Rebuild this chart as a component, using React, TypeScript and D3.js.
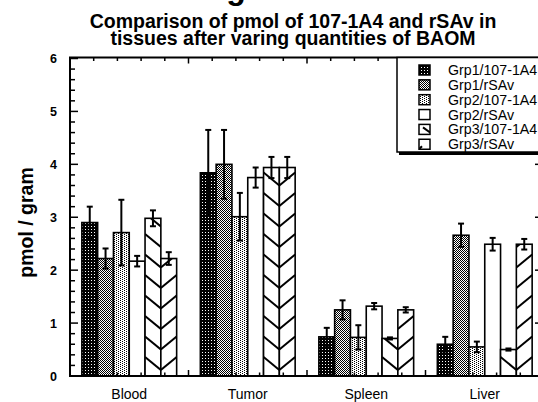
import React from "react";
import * as d3 from "d3";

const categories = ["Blood", "Tumor", "Spleen", "Liver"];
const seriesNames = ["Grp1/107-1A4", "Grp1/rSAv", "Grp2/107-1A4", "Grp2/rSAv", "Grp3/107-1A4", "Grp3/rSAv"];

const grp1_107 = [2.9, 3.84, 0.74, 0.6];
const grp1_107Err = [0.3, 0.81, 0.17, 0.14];
const grp1_rsav = [2.22, 4.0, 1.25, 2.66];
const grp1_rsavErr = [0.19, 0.65, 0.18, 0.22];
const grp2_107 = [2.71, 3.01, 0.73, 0.55];
const grp2_107Err = [0.62, 0.45, 0.23, 0.1];
const grp2_rsav = [2.17, 3.75, 1.32, 2.49];
const grp2_rsavErr = [0.1, 0.19, 0.06, 0.12];
const grp3_107 = [2.98, 3.94, 0.71, 0.5];
const grp3_107Err = [0.15, 0.2, 0.02, 0.02];
const grp3_rsav = [2.22, 3.94, 1.25, 2.49];
const grp3_rsavErr = [0.12, 0.2, 0.05, 0.1];

const seriesValues = [grp1_107, grp1_rsav, grp2_107, grp2_rsav, grp3_107, grp3_rsav];
const seriesErrors = [grp1_107Err, grp1_rsavErr, grp2_107Err, grp2_rsavErr, grp3_107Err, grp3_rsavErr];

const yTicks = [0, 1, 2, 3, 4, 5, 6];
const titleLines = ["Comparison of pmol of 107-1A4 and rSAv in", "tissues after varing quantities of BAOM"];
const yLabel = "pmol / gram";

const W = 538;
const H = 402;
const FONT = "'Liberation Sans', Arial, Helvetica, sans-serif";

export default function App() {
  const left = 70;
  const right = 543;
  const bottom = 376;
  const topY = 57.5;

  const x0 = d3.scaleBand<string>().domain(categories).range([70, 544]).paddingInner(0.2).paddingOuter(0.1);
  const x1 = d3.scaleBand<string>().domain(seriesNames).range([0, x0.bandwidth()]);
  const y = d3.scaleLinear().domain([0, 6]).range([bottom, 58.5]);

  const fills = ["url(#p0)", "url(#p1)", "url(#p2)", "#fff", "#fff", "#fff"];

  const minorY = d3.range(0, 6.001, 0.2);
  const step = x0.step();
  const topTicks: { x: number; major: boolean }[] = [];
  for (let i = 0; i <= 20; i++) {
    const xv = 70 + (i * step) / 5;
    if (xv > left + 1 && xv < right - 1) topTicks.push({ x: xv, major: i % 5 === 0 });
  }

  const bars: any[] = [];
  categories.forEach((c, ci) => {
    seriesNames.forEach((s, si) => {
      const bx = (x0(c) as number) + (x1(s) as number);
      const bw = x1.bandwidth();
      const v = seriesValues[si][ci];
      const e = seriesErrors[si][ci];
      bars.push({ id: `b${ci}_${si}`, ci, si, bx, bw, v, e });
    });
  });

  const hatchLines = (b: any) => {
    const lines: any[] = [];
    const yTop = y(b.v);
    const rise = 13;
    for (let k = 0; k < 40; k++) {
      const yk = bottom - 6 - k * 20.5;
      if (yk < yTop - 30) break;
      if (b.si === 4) {
        lines.push({ x1: b.bx, y1: yk - rise, x2: b.bx + b.bw, y2: yk });
      } else {
        lines.push({ x1: b.bx, y1: yk, x2: b.bx + b.bw, y2: yk - rise });
      }
    }
    return lines;
  };

  const legendRowY = (i: number) => 70 + i * 14.85;

  return (
    <svg width={W} height={H} viewBox={`0 0 ${W} ${H}`} style={{ display: "block", position: "absolute", left: 0, top: 0, background: "#fff" }}>
      <defs>
        <pattern id="p0" patternUnits="userSpaceOnUse" width={3} height={3}>
          <rect width={3} height={3} fill="#000" shapeRendering="crispEdges" />
          <rect x={1} y={1} width={1} height={1} fill="#fff" shapeRendering="crispEdges" />
        </pattern>
        <pattern id="p1" patternUnits="userSpaceOnUse" width={2} height={2}>
          <rect width={2} height={2} fill="#fff" shapeRendering="crispEdges" />
          <rect x={0} y={0} width={1} height={1} fill="#000" shapeRendering="crispEdges" />
          <rect x={1} y={1} width={1} height={1} fill="#000" shapeRendering="crispEdges" />
        </pattern>
        <pattern id="p2" patternUnits="userSpaceOnUse" width={4} height={2}>
          <rect width={4} height={2} fill="#fff" shapeRendering="crispEdges" />
          <rect x={0} y={0} width={1} height={1} fill="#000" shapeRendering="crispEdges" />
          <rect x={2} y={1} width={1} height={1} fill="#000" shapeRendering="crispEdges" />
        </pattern>
        {bars
          .filter((b) => b.si >= 4)
          .map((b) => (
            <clipPath id={`c_${b.id}`} key={b.id}>
              <rect x={b.bx} y={y(b.v)} width={b.bw} height={bottom - y(b.v)} />
            </clipPath>
          ))}
        {[4, 5].map((i) => (
          <clipPath id={`lg${i}`} key={i}>
            <rect x={419} y={legendRowY(i) - 5} width={11} height={10} />
          </clipPath>
        ))}
      </defs>

      {/* cut-off heading fragment */}
      <text x={236} y={-1} fontFamily={FONT} fontWeight="bold" fontSize={32} textAnchor="middle">g</text>

      <text textAnchor="middle" fontFamily={FONT} fontWeight="bold" fontSize={19.5}>
        {titleLines.map((t, i) => (
          <tspan key={i} x={293} y={28 + i * 17.2}>
            {t}
          </tspan>
        ))}
      </text>

      <text transform={`translate(33,222.5) rotate(-90)`} textAnchor="middle" fontFamily={FONT} fontWeight="bold" fontSize={19.5}>
        {yLabel}
      </text>

      {yTicks.map((t) => (
        <text key={t} x={57} y={y(t)} dy="0.36em" textAnchor="end" fontFamily={FONT} fontWeight="bold" fontSize={12.5}>
          {t}
        </text>
      ))}

      {categories.map((c) => (
        <text key={c} x={(x0(c) as number) + x0.bandwidth() / 2} y={399} textAnchor="middle" fontFamily={FONT} fontSize={14}>
          {c}
        </text>
      ))}

      {/* bars */}
      {bars.map((b) => (
        <g key={b.id}>
          <rect x={b.bx} y={y(b.v)} width={b.bw} height={bottom - y(b.v)} fill={fills[b.si]} />
          {b.si >= 4 && (
            <g clipPath={`url(#c_${b.id})`}>
              {hatchLines(b).map((l: any, i: number) => (
                <line key={i} {...l} stroke="#000" strokeWidth={2} />
              ))}
            </g>
          )}
          <rect x={b.bx} y={y(b.v)} width={b.bw} height={bottom - y(b.v)} fill="none" stroke="#000" strokeWidth={1.6} />
        </g>
      ))}

      {/* error bars */}
      {bars.map((b) => {
        const cx = b.bx + b.bw / 2;
        return (
          <g key={`e${b.id}`} stroke="#000" strokeWidth={2}>
            <line x1={cx} x2={cx} y1={y(b.v + b.e)} y2={y(b.v - b.e)} />
            <line x1={cx - 3} x2={cx + 3} y1={y(b.v + b.e)} y2={y(b.v + b.e)} />
            <line x1={cx - 3} x2={cx + 3} y1={y(b.v - b.e)} y2={y(b.v - b.e)} />
          </g>
        );
      })}

      {/* frame */}
      <rect x={left} y={topY} width={right - left} height={bottom - topY} fill="none" stroke="#000" strokeWidth={2} />
      {minorY.map((t, i) => {
        const major = i % 5 === 0;
        const len = major ? 8 : 5;
        return (
          <g key={i} stroke="#000" strokeWidth={1.5}>
            <line x1={left} x2={left + len} y1={y(t)} y2={y(t)} />
            <line x1={right} x2={right - len} y1={y(t)} y2={y(t)} />
          </g>
        );
      })}
      {topTicks.map((t, i) => (
        <g key={i} stroke="#000" strokeWidth={1.5}>
          <line x1={t.x} x2={t.x} y1={topY} y2={topY + (t.major ? 6 : 3.5)} />
          <line x1={t.x} x2={t.x} y1={bottom} y2={bottom - (t.major ? 6 : 3.5)} />
        </g>
      ))}

      {/* legend */}
      <rect x={399} y={60} width={150} height={95} fill="#000" />
      <rect x={397} y={57.5} width={150} height={94.5} fill="#fff" stroke="#000" strokeWidth={1.5} />
      {seriesNames.map((s, i) => {
        const ry = legendRowY(i);
        return (
          <g key={s}>
            <rect x={419} y={ry - 5} width={11} height={10} fill={fills[i]} stroke="#000" strokeWidth={1.5} />
            {i >= 4 && (
              <line
                clipPath={`url(#lg${i})`}
                x1={i === 4 ? 423 : 419}
                y1={i === 4 ? ry - 2 : ry + 5}
                x2={i === 4 ? 430 : 422}
                y2={i === 4 ? ry + 3 : ry + 2}
                stroke="#000"
                strokeWidth={2}
              />
            )}
            <text x={448} y={ry + 5} fontFamily={FONT} fontSize={14.2}>
              {s}
            </text>
          </g>
        );
      })}
    </svg>
  );
}
